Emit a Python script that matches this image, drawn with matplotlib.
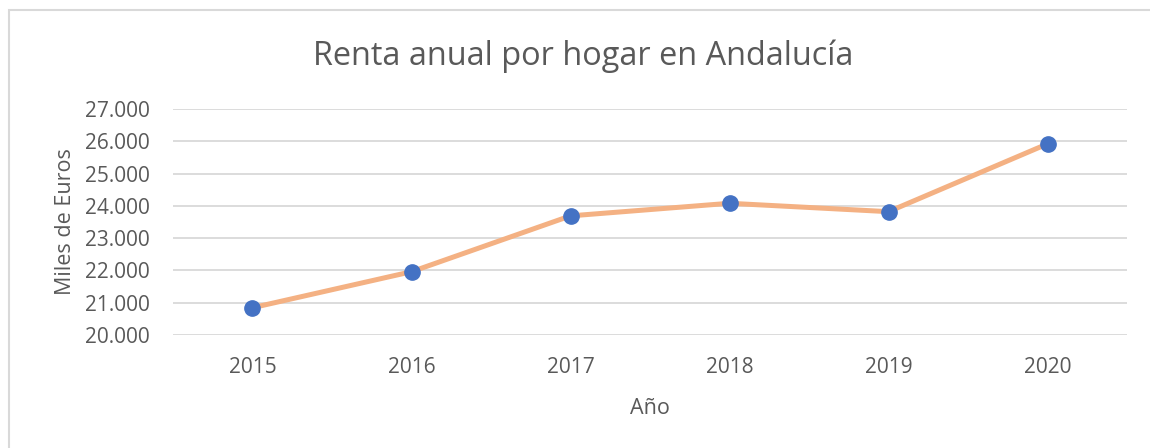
import matplotlib.pyplot as plt
from matplotlib.patches import Rectangle

plt.rcParams['font.family'] = ['Open Sans', 'DejaVu Sans']

# datos
years = ['2015', '2016', '2017', '2018', '2019', '2020']
renta = [20.845, 21.96, 23.69, 24.08, 23.82, 25.92]
yticks = [20, 21, 22, 23, 24, 25, 26, 27]
ytick_labels = ['20.000', '21.000', '22.000', '23.000', '24.000', '25.000', '26.000', '27.000']

txt = '#595959'

fig = plt.figure(figsize=(11.5, 4.48), dpi=100)
ax = fig.add_axes([173 / 1150, 1 - 335 / 448, (1127 - 173) / 1150, (335 - 109) / 448])

x = list(range(len(years)))
ax.plot(x, renta, color='#f4b183', lw=3.6, marker='o', ms=11,
        mfc='#4472c4', mec='#4472c4', zorder=3)

ax.set_xlim(-0.5, len(years) - 0.5)
ax.set_ylim(20, 27)
ax.set_yticks(yticks)
ax.set_yticklabels(ytick_labels)
ax.set_xticks(x)
ax.set_xticklabels(years)
ax.tick_params(length=0, labelsize=15, labelcolor=txt)
ax.tick_params(axis='y', pad=17)
ax.tick_params(axis='x', pad=16)
ax.grid(axis='y', color='#d9d9d9', lw=1.3)
ax.set_axisbelow(True)
for s in ax.spines.values():
    s.set_visible(False)

ax.set_ylabel('Miles de Euros', fontsize=15.5, color=txt, labelpad=6)
ax.set_xlabel('Año', fontsize=15.5, color=txt, labelpad=14)

fig.text(583 / 1150, 1 - 56 / 448, 'Renta anual por hogar en Andalucía',
         fontsize=23.4, color=txt, ha='center', va='center')

# marco del gráfico
fig.patches.append(Rectangle((9 / 1150, -0.1), 1.2, 1 - 10 / 448 + 0.1,
                             transform=fig.transFigure, fill=False,
                             edgecolor='#d9d9d9', lw=1.5))

fig.savefig('out.png', dpi=100)
